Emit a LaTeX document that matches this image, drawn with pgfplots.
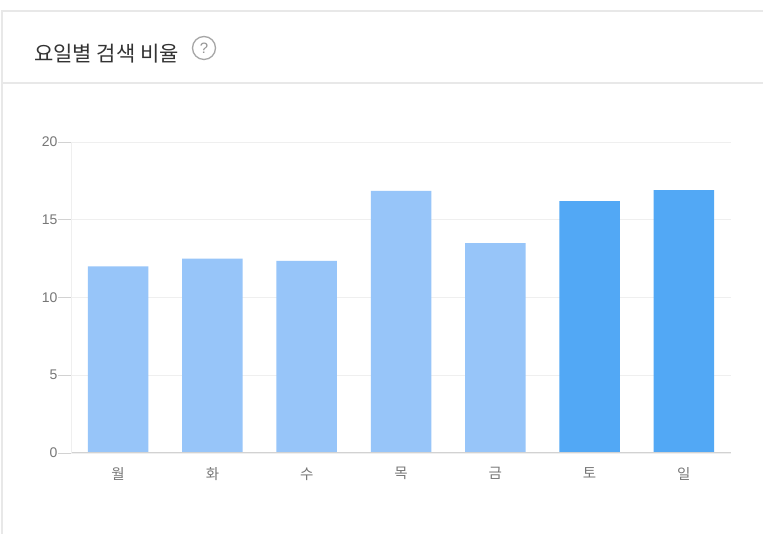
\documentclass[border=0pt]{standalone}
\usepackage{pgfplots}
\pgfplotsset{compat=1.18}
\usepackage{fontspec}
\setmainfont{Liberation Sans}
\newfontfamily\cjk{Noto Sans CJK KR}
\definecolor{lightbar}{HTML}{97C5F9}
\definecolor{darkbar}{HTML}{52A8F5}
\definecolor{gridc}{HTML}{EFEFEF}
\definecolor{axisc}{HTML}{D2D2D2}
\definecolor{labelc}{HTML}{777777}
\definecolor{cardc}{HTML}{E8E8E8}
\begin{document}
\begin{tikzpicture}[x=1pt,y=1pt]
\useasboundingbox (0,0) rectangle (763,534);
\fill[white] (0,0) rectangle (763,534);
\draw[cardc,line width=1.5pt] (2,0) -- (2,523) -- (763,523);
\draw[cardc,line width=1.2pt] (2,451) -- (763,451);
\node[anchor=west,inner sep=0pt,text=black!80] at (34,480) {\cjk\fontsize{21}{23}\selectfont 요일별 검색 비율};
\draw[black!35,line width=1.3pt] (204,486) circle (11.5);
\node[text=black!42,inner sep=0pt] at (204,486) {\fontsize{15}{16}\selectfont ?};
\begin{axis}[
  at={(71pt,81pt)}, anchor=south west,
  scale only axis, width=660pt, height=311pt,
  xmin=-0.5, xmax=6.5, ymin=0, ymax=20,
  ybar, bar width=60.5pt, bar shift=0pt,
  xtick={0,1,2,3,4,5,6},
  xticklabels={월,화,수,목,금,토,일},
  xticklabel style={font=\cjk\fontsize{14.5}{16}\selectfont, text=labelc, yshift=2pt},
  ytick={0,5,10,15,20},
  ytick pos=left,
  yticklabel style={font=\fontsize{14}{16}\selectfont, text=labelc, xshift=3pt},
  /pgf/number format/assume math mode=true,
  ymajorgrids, grid style={gridc,line width=0.9pt},
  axis line style={draw=none},
  xtick style={draw=none},
  ytick style={draw=axisc,line width=0.9pt},
  tick align=outside,
  major tick length=13pt,
  clip=false,
]
\addplot[fill=lightbar,draw=none] coordinates {(0,12.0) (1,12.5) (2,12.35) (3,16.85) (4,13.5)};
\addplot[fill=darkbar,draw=none] coordinates {(5,16.2) (6,16.9)};
\draw[axisc,line width=1pt] (axis cs:-0.5,0) -- (axis cs:6.5,0);
\draw[gridc,line width=1pt] (axis cs:-0.5,0) -- (axis cs:-0.5,20);
\end{axis}
\end{tikzpicture}
\end{document}
